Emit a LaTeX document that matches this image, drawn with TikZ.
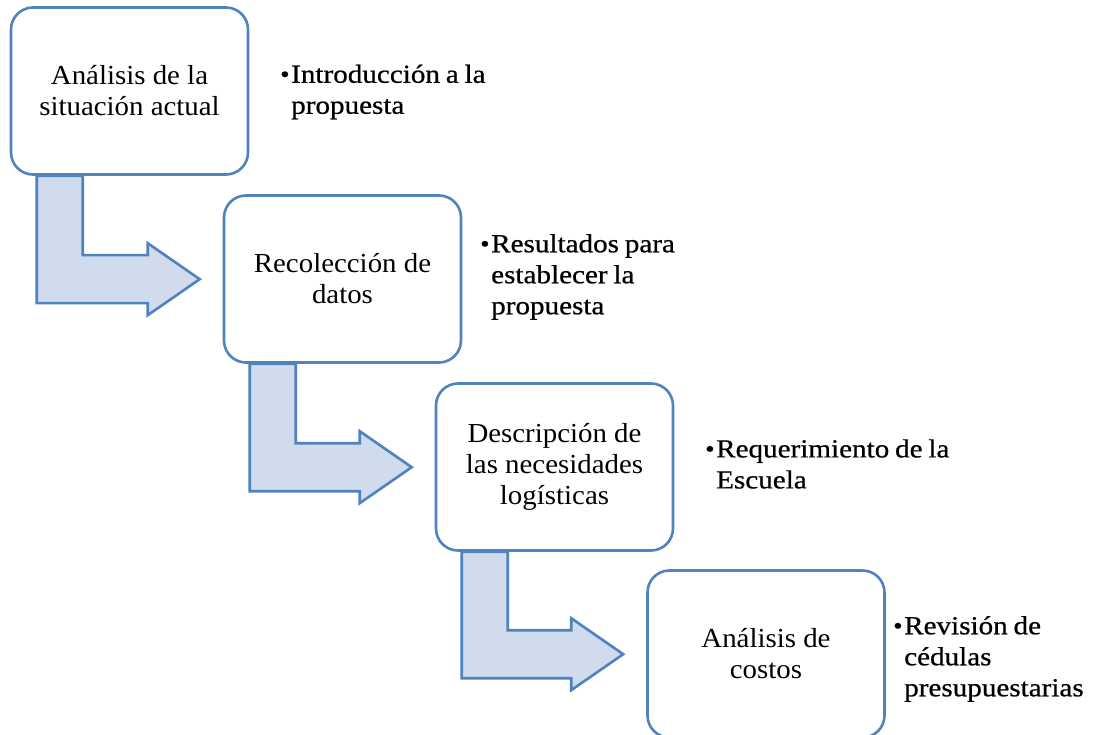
\documentclass[tikz,border=0pt]{standalone}
\usepackage{fontspec}
\setmainfont{Liberation Serif}[FakeStretch=1.05]
\newfontfamily\bulfont{Liberation Serif}[FakeStretch=1.12,FakeBold=0.7,WordSpace=0.8]
\usetikzlibrary{calc,backgrounds}
\pgfdeclarelayer{fondo}
\pgfsetlayers{fondo,background,main}
\definecolor{bordeazul}{RGB}{80,130,190}
\definecolor{rellenoazul}{RGB}{208,219,237}
\tikzset{
  etapa/.style={draw=bordeazul, line width=2.6pt, fill=white, rounded corners=22pt,
    minimum width=237pt, minimum height=167pt, align=center, inner sep=0pt,
    font=\fontsize{27.5}{31}\selectfont},
  nota/.style={anchor=west, align=left, inner sep=0pt,
    font=\bulfont\fontsize{26}{31}\selectfont},
  flecha/.style={draw=bordeazul, line width=2.6pt, fill=rellenoazul, line join=miter}
}
\newcommand{\vin}{\makebox[11pt][l]{\raisebox{0.5pt}{\fontsize{24}{24}\selectfont\textbullet}}}
\newcommand{\ind}{\hspace*{11pt}}
\newcommand{\flechadobl}[2]{%
  \draw[flecha] let \p1=(#1.south west), \p2=(#2.north west) in
    (\x1+27pt,\y1) -- (\x1+73pt,\y1) -- (\x1+73pt,\y2-61pt) -- (\x2-75pt,\y2-61pt)
    -- (\x2-75pt,\y2-49pt) -- (\x2-23pt,\y2-85pt) -- (\x2-75pt,\y2-121pt)
    -- (\x2-75pt,\y2-109pt) -- (\x1+27pt,\y2-109pt) -- cycle;}
\begin{document}
\begin{tikzpicture}[x=1pt,y=-1pt]
\useasboundingbox (0,0) rectangle (1098,735);
\begin{pgfonlayer}{fondo}
\fill[white] (0,0) rectangle (1098,735);
\end{pgfonlayer}
\clip (0,0) rectangle (1098,735);

\node[etapa] (e1) at (129.5,91) {Análisis de la\\situación actual};
\node[etapa] (e2) at (342.5,279) {Recolección de\\datos};
\node[etapa] (e3) at (554.5,467) {Descripción de\\las necesidades\\logísticas};
\node[etapa] (e4) at (766,654) {Análisis de\\costos};

\node[nota] (n1) at (280,92) {\vin Introducción a la\\\ind propuesta};
\node[nota] (n2) at (480,277) {\vin Resultados para\\\ind establecer la\\\ind propuesta};
\node[nota] (n3) at (705,464) {\vin Requerimiento de la\\\ind Escuela};
\node[nota] (n4) at (893,659) {\vin Revisión de\\\ind cédulas\\\ind presupuestarias};

\begin{pgfonlayer}{background}
\flechadobl{e1}{e2}
\flechadobl{e2}{e3}
\flechadobl{e3}{e4}
\end{pgfonlayer}
\end{tikzpicture}
\end{document}
